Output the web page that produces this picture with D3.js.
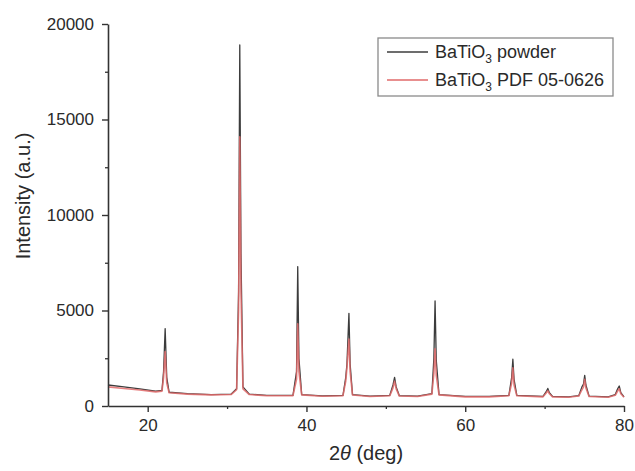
<!DOCTYPE html>
<html>
<head>
<meta charset="utf-8">
<script src="https://cdn.jsdelivr.net/npm/d3@7"></script>
<style>
  body { margin: 0; background: #fff; }
  text { font-family: "Liberation Sans", Arial, sans-serif; fill: #2a2a2a; }
</style>
</head>
<body>
<div id="vis"></div>
<script>
// frame
const FRAME_WIDTH = 635;
const FRAME_HEIGHT = 471;
const MARGINS = {left: 108, right: 11, top: 24, bottom: 65};

// data (2theta in deg, intensity in a.u.)
const twoTheta = [15, 17, 19, 21, 21.8, 22.0, 22.2, 22.4, 22.7, 25, 28, 30.5, 31.2, 31.45, 31.6, 31.75, 32.0, 32.8,
  35, 38.3, 38.75, 38.9, 39.05, 39.4, 42, 44.6, 44.95, 45.1, 45.35, 45.5, 45.8, 48, 50.5, 50.9, 51.1, 51.3, 51.7,
  54, 55.8, 56.05, 56.2, 56.35, 56.7, 60, 63, 65.5, 65.85, 66.0, 66.15, 66.5, 69.8, 70.2, 70.4, 70.6, 71, 73,
  74.3, 74.7, 74.9, 75.05, 75.2, 75.6, 78, 78.9, 79.2, 79.4, 79.6, 80];

const powderCounts = [1100, 1000, 900, 780, 820, 1800, 4050, 1500, 720, 650, 600, 620, 900, 6000, 18900, 8000, 1000, 620,
  560, 560, 1800, 7300, 2500, 600, 530, 560, 1500, 2200, 4850, 2200, 600, 520, 560, 1100, 1500, 1000, 540,
  520, 650, 2500, 5500, 2400, 600, 500, 500, 560, 1500, 2450, 1400, 560, 500, 750, 920, 700, 500, 480,
  540, 1000, 1150, 1600, 1100, 520, 480, 600, 900, 1050, 700, 480];

const pdfCounts = [1000, 920, 840, 740, 780, 1500, 2850, 1200, 690, 620, 580, 600, 850, 5000, 14100, 6000, 900, 600,
  540, 540, 1400, 4300, 1800, 580, 510, 540, 1300, 2000, 3500, 1800, 580, 500, 540, 950, 1300, 900, 520,
  500, 620, 1700, 3000, 1600, 580, 480, 480, 540, 1200, 2000, 1100, 540, 480, 680, 800, 640, 480, 460,
  520, 850, 1000, 1400, 950, 500, 460, 560, 780, 900, 640, 460];

const yTicks = [0, 5000, 10000, 15000, 20000];
const yMinor = [2500, 7500, 12500, 17500];
const xTicks = [20, 40, 60, 80];
const xMinor = [30, 50, 70];

const VIS_WIDTH = FRAME_WIDTH - MARGINS.left - MARGINS.right;
const VIS_HEIGHT = FRAME_HEIGHT - MARGINS.top - MARGINS.bottom;

const FRAME = d3.select("#vis")
  .append("svg")
    .attr("width", FRAME_WIDTH)
    .attr("height", FRAME_HEIGHT);

const X_SCALE = d3.scaleLinear().domain([15, 80]).range([0, VIS_WIDTH]);
const Y_SCALE = d3.scaleLinear().domain([0, 20000]).range([VIS_HEIGHT, 0]);

const plot = FRAME.append("g")
  .attr("transform", "translate(" + MARGINS.left + "," + MARGINS.top + ")");

// lines
const line = (vals) => d3.line()
  .x((d, i) => X_SCALE(twoTheta[i]))
  .y((d, i) => Y_SCALE(vals[i]))(vals);

plot.append("path")
  .attr("d", line(powderCounts))
  .attr("fill", "none")
  .attr("stroke", "#3c3c3c")
  .attr("stroke-width", 1.3)
  .attr("stroke-linejoin", "round");

plot.append("path")
  .attr("d", line(pdfCounts))
  .attr("fill", "none")
  .attr("stroke", "#e06a6a")
  .attr("stroke-opacity", 0.85)
  .attr("stroke-width", 1.6)
  .attr("stroke-linejoin", "round");

// minor ticks
plot.append("g")
  .call(d3.axisLeft(Y_SCALE).tickValues(yMinor).tickSize(3).tickFormat(""))
  .call(g => g.select(".domain").remove())
  .selectAll("line").attr("stroke", "#333").attr("stroke-width", 1.3);

plot.append("g")
  .attr("transform", "translate(0," + VIS_HEIGHT + ")")
  .call(d3.axisBottom(X_SCALE).tickValues(xMinor).tickSize(3).tickFormat(""))
  .call(g => g.select(".domain").remove())
  .selectAll("line").attr("stroke", "#333").attr("stroke-width", 1.3);

// y axis
const yAxis = plot.append("g")
  .call(d3.axisLeft(Y_SCALE).tickValues(yTicks).tickFormat(d3.format("d"))
    .tickSize(6).tickSizeOuter(0).tickPadding(8));
yAxis.select(".domain").attr("stroke", "#333").attr("stroke-width", 1.6);
yAxis.selectAll("line").attr("stroke", "#333").attr("stroke-width", 1.4);
yAxis.selectAll("text").attr("font-size", "17px").attr("fill", "#2a2a2a")
  .attr("font-family", "Liberation Sans, Arial, sans-serif");

// x axis
const xAxis = plot.append("g")
  .attr("transform", "translate(0," + VIS_HEIGHT + ")")
  .call(d3.axisBottom(X_SCALE).tickValues(xTicks).tickFormat(d3.format("d"))
    .tickSize(6).tickSizeOuter(0).tickPadding(7));
xAxis.select(".domain").attr("stroke", "#333").attr("stroke-width", 1.6);
xAxis.selectAll("line").attr("stroke", "#333").attr("stroke-width", 1.4);
xAxis.selectAll("text").attr("font-size", "17px").attr("fill", "#2a2a2a")
  .attr("font-family", "Liberation Sans, Arial, sans-serif");

// axis titles
FRAME.append("text")
  .attr("transform", "translate(30,196) rotate(-90)")
  .attr("text-anchor", "middle")
  .attr("font-size", "20px")
  .text("Intensity (a.u.)");

const xt = FRAME.append("text")
  .attr("x", MARGINS.left + VIS_WIDTH / 2)
  .attr("y", 460)
  .attr("text-anchor", "middle")
  .attr("font-size", "20px");
xt.append("tspan").text("2");
xt.append("tspan").attr("font-style", "italic").text("θ");
xt.append("tspan").text(" (deg)");

// legend
const legend = FRAME.append("g");
legend.append("rect")
  .attr("x", 378).attr("y", 38)
  .attr("width", 235).attr("height", 58)
  .attr("fill", "#fff")
  .attr("stroke", "#8a8a8a")
  .attr("stroke-width", 1.3);

const legendItems = [
  {name: " powder", color: "#3c3c3c", y: 52},
  {name: " PDF 05-0626", color: "#e06a6a", y: 80}
];
legendItems.forEach((d) => {
  legend.append("line")
    .attr("x1", 387).attr("x2", 428)
    .attr("y1", d.y).attr("y2", d.y)
    .attr("stroke", d.color)
    .attr("stroke-width", 1.4);
  const t = legend.append("text")
    .attr("x", 435).attr("y", d.y + 6)
    .attr("font-size", "18px");
  t.append("tspan").text("BaTiO");
  t.append("tspan").attr("font-size", "12px").attr("dy", 5).text("3");
  t.append("tspan").attr("dy", -5).text(d.name);
});
</script>
</body>
</html>
